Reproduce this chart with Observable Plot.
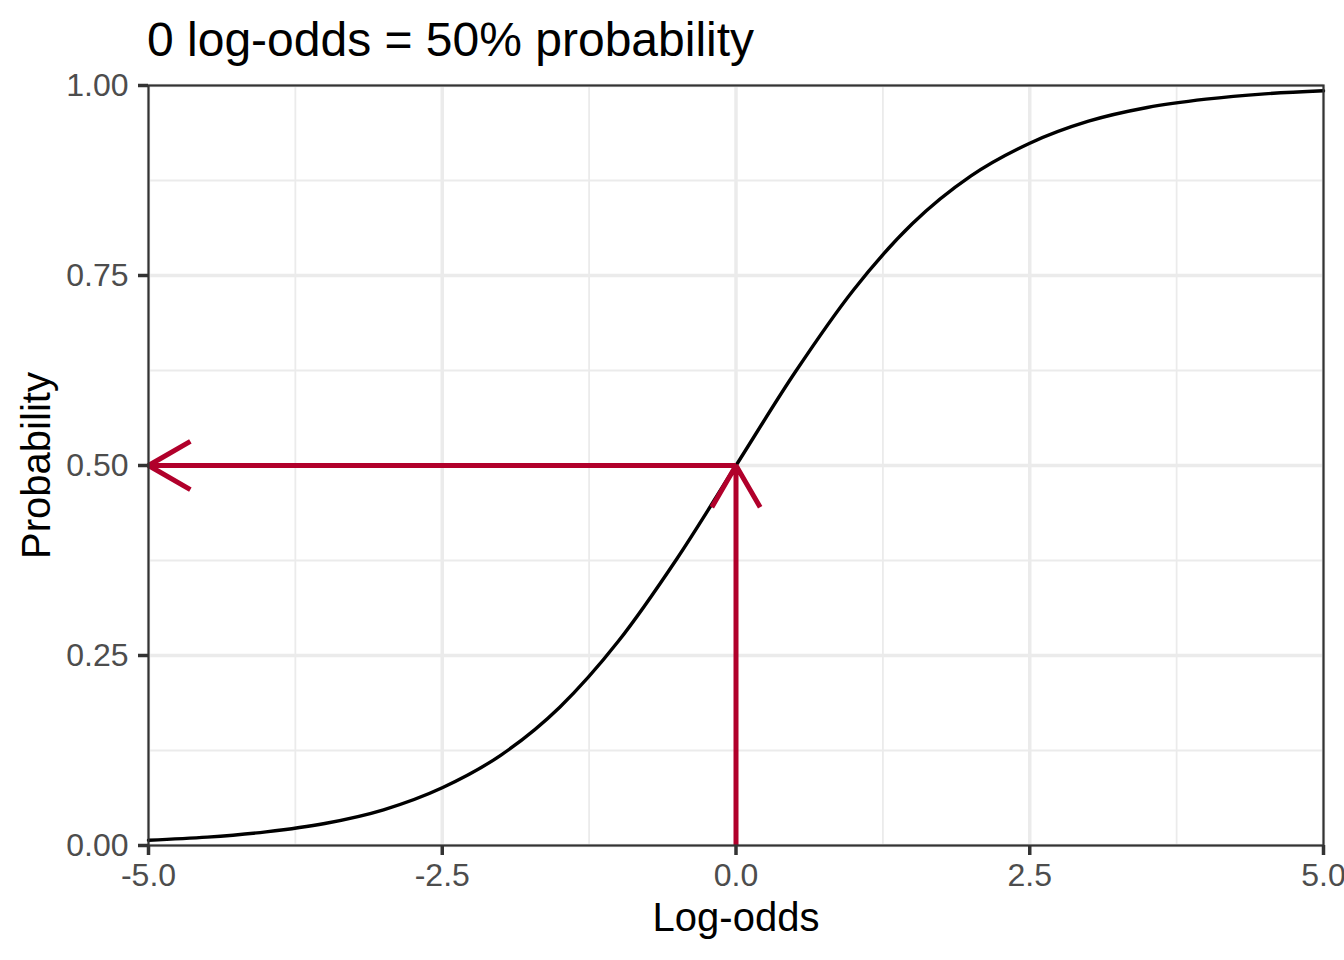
<!DOCTYPE html>
<html>
<head>
<meta charset="utf-8">
<script src="https://cdn.jsdelivr.net/npm/d3@7"></script>
<script src="https://cdn.jsdelivr.net/npm/@observablehq/plot@0.6"></script>
<style>
  html, body { margin: 0; padding: 0; background: #ffffff; overflow: hidden; }
  body { width: 1344px; height: 960px; font-family: "Liberation Sans", Arial, Helvetica, sans-serif; }
  #title {
    box-sizing: border-box; height: 70px; padding-left: 147px; padding-top: 16px;
    font-size: 48px; line-height: 48px; color: #000; white-space: nowrap;
  }
  #chart svg { display: block; overflow: visible; }
</style>
</head>
<body>
<div id="title">0 log-odds = 50% probability</div>
<div id="chart"></div>
<script>
// ---- data ----
const logOdds = [-5, -4.5, -4, -3.5, -3, -2.5, -2, -1.5, -1, -0.5, 0, 0.5, 1, 1.5, 2, 2.5, 3, 3.5, 4, 4.5, 5];
const probability = [0.007, 0.011, 0.018, 0.029, 0.047, 0.076, 0.119, 0.182, 0.269, 0.378, 0.500,
                     0.622, 0.731, 0.818, 0.881, 0.924, 0.953, 0.971, 0.982, 0.989, 0.993];

// arrows: vertical (0,0)->(0,0.5), horizontal (0,0.5)->(-5,0.5)
const arrowX1 = [0, 0];
const arrowY1 = [0, 0.5];
const arrowX2 = [0, -5];
const arrowY2 = [0.5, 0.5];

const xTicks = [-5, -2.5, 0, 2.5, 5];
const xMinor = [-3.75, -1.25, 1.25, 3.75];
const yTicks = [0, 0.25, 0.5, 0.75, 1];
const yMinor = [0.125, 0.375, 0.625, 0.875];

const xLabel = "Log-odds";
const yLabel = "Probability";

const curveData = logOdds.map((x, i) => ({x, p: probability[i]}));
const arrowData = arrowX1.map((x1, i) => ({x1, y1: arrowY1[i], x2: arrowX2[i], y2: arrowY2[i]}));

const gridColor = "#ebebeb";
const arrowColor = "#B1002B";

const chart = Plot.plot({
  width: 1344,
  height: 890,
  marginTop: 15,
  marginBottom: 115,
  marginLeft: 148,
  marginRight: 21,
  style: {fontFamily: "'Liberation Sans', Arial, Helvetica, sans-serif", background: "#ffffff", overflow: "visible"},
  x: {domain: [-5, 5]},
  y: {domain: [0, 1]},
  marks: [
    Plot.gridX(xMinor, {stroke: gridColor, strokeOpacity: 1, strokeWidth: 1.8}),
    Plot.gridY(yMinor, {stroke: gridColor, strokeOpacity: 1, strokeWidth: 1.8}),
    Plot.gridX(xTicks, {stroke: gridColor, strokeOpacity: 1, strokeWidth: 3.5}),
    Plot.gridY(yTicks, {stroke: gridColor, strokeOpacity: 1, strokeWidth: 3.5}),
    Plot.line(curveData, {x: "x", y: "p", curve: "monotone-x", stroke: "#000000", strokeWidth: 3.4}),
    Plot.arrow(arrowData, {
      x1: "x1", y1: "y1", x2: "x2", y2: "y2",
      stroke: arrowColor, strokeWidth: 5, headAngle: 60, headLength: 14.5,
      strokeLinecap: "butt", strokeLinejoin: "miter"
    }),
    Plot.axisX({
      ticks: xTicks, tickFormat: d => d.toFixed(1), tickSize: 10, tickPadding: 8,
      fontSize: 32, stroke: "#333333", strokeWidth: 3.5, fill: "#4d4d4d", label: null
    }),
    Plot.axisY({
      ticks: yTicks, tickFormat: d => d.toFixed(2), tickSize: 10, tickPadding: 10,
      fontSize: 32, stroke: "#333333", strokeWidth: 3.5, fill: "#4d4d4d", label: null
    }),
    Plot.frame({stroke: "#333333", strokeWidth: 2.2}),
    Plot.text([xLabel], {frameAnchor: "bottom", dy: 85, lineAnchor: "bottom", fontSize: 40, fill: "#000000", text: d => d}),
    Plot.text([yLabel], {frameAnchor: "left", dx: -99, rotate: -90, textAnchor: "middle", lineAnchor: "bottom", fontSize: 40, fill: "#000000", text: d => d})
  ]
});
document.getElementById("chart").appendChild(chart);
</script>
</body>
</html>
